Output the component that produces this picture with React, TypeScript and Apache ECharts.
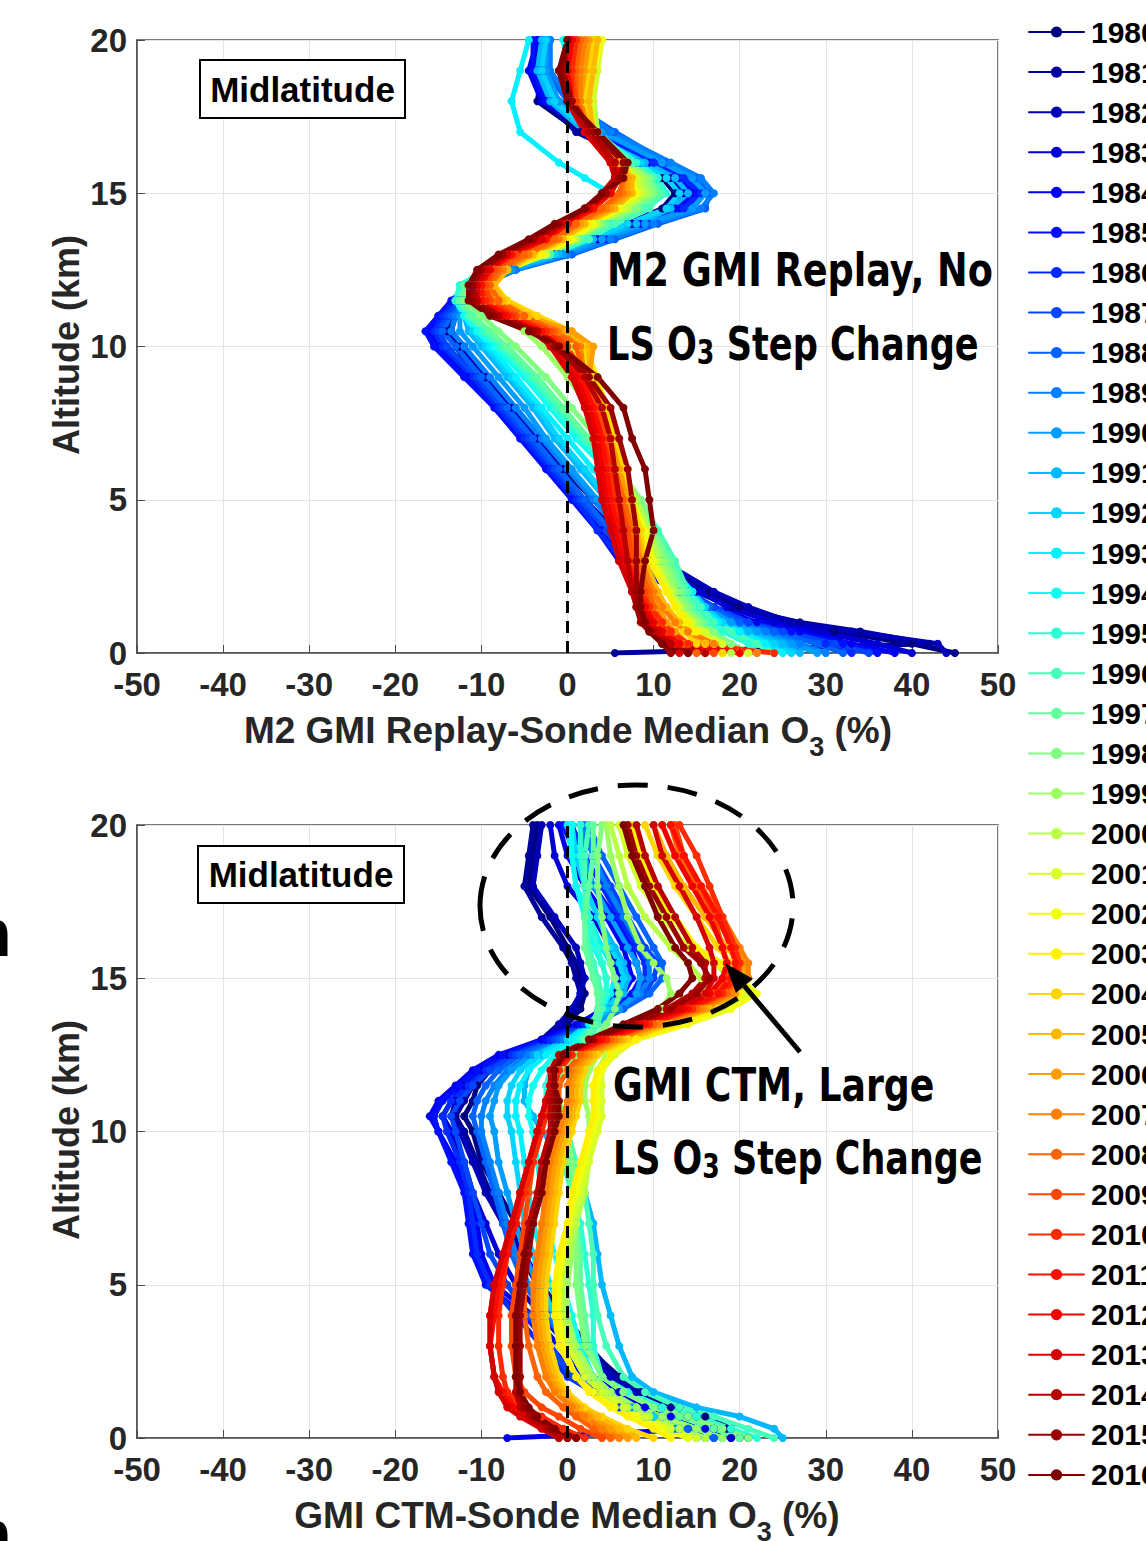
import React, { useEffect, useRef } from "react";
import * as echarts from "echarts";

const YEARS = [
  "1980", "1981", "1982", "1983", "1984", "1985", "1986", "1987", "1988", "1989",
  "1990", "1991", "1992", "1993", "1994", "1995", "1996", "1997", "1998", "1999",
  "2000", "2001", "2002", "2003", "2004", "2005", "2006", "2007", "2008", "2009",
  "2010", "2011", "2012", "2013", "2014", "2015", "2016",
];

// altitude levels (km) for each profile value
const ALT = [0, 0.3, 0.7, 1, 1.5, 2, 3, 4, 5, 6, 7, 8, 9, 10, 10.5, 11, 11.5, 12, 12.5, 13, 13.5, 14, 14.5, 15, 15.5, 16, 17, 18, 19, 20];

// M2 GMI Replay - Sonde median O3 (%), one row per year
const M2_PROFILES = [
  [45, 40, 31, 26, 20, 16.5, 10, 6.5, 3, -0.5, -4.5, -7.5, -10.5, -13, -14, -13.5, -12.5, -11, -7.5, -1.5, 3, 7, 11, 12.5, 11, 8, 1.5, -3.5, -3, -2.5],
  [5.5, 42, 34, 27, 19, 15, 9, 5.5, 2, -1, -4, -7, -9.5, -12.5, -14.5, -14, -12.5, -11, -7, -1, 3.5, 7.5, 11.5, 13, 11.5, 8.5, 1, -2.5, -3.5, -3.5],
  [44, 43, 33, 26, 21, 17, 11, 7, 3.5, 0, -3.5, -6.5, -9.5, -12, -13.5, -13, -12, -10.5, -6.5, -0.5, 4, 8, 12, 13.5, 12, 8.5, 2, -2, -3, -2.5],
  [40, 36, 29, 24, 18.5, 15.5, 9.5, 5, 1.5, -1.5, -5, -8, -11, -14, -15, -14, -12.5, -11, -7.5, -1.5, 3, 7.5, 12, 14, 12.5, 9, 2.5, -2, -4, -3.5],
  [38, 33, 27, 22, 17, 14, 7, 4, 1, -2, -5, -8, -11.5, -15, -16, -15, -13, -11.5, -8, -1.5, 3.5, 8, 12.5, 14.5, 12.5, 9.5, 3, -3, -4.5, -3.5],
  [36, 32, 26, 21, 16, 13, 6, 3.5, 0.5, -2.5, -5.5, -8.5, -12, -15.5, -16.5, -15, -13.5, -11.5, -7.5, -1, 4, 8.5, 13, 15, 13, 10, 3.5, -2.5, -4, -4],
  [33, 30, 24, 20, 16, 13, 6.5, 3.5, 1, -2, -5, -8, -11, -14.5, -15.5, -14.5, -13, -11, -7, -0.5, 4.5, 9, 13.5, 15.5, 13.5, 10, 4, -2, -3.5, -3],
  [35, 31, 25, 21, 17, 14, 7, 4.5, 1.5, -1.5, -4.5, -7.5, -10.5, -14, -15, -14, -12.5, -10.5, -6.5, 0, 5, 9.5, 14.5, 16, 14.5, 11, 5, -1, -3, -2.5],
  [32, 29, 24, 20, 16.5, 14, 8, 5, 2, -1, -4, -7, -10, -13, -14.5, -13.5, -12, -10, -6, 0.5, 5.5, 10.5, 16, 16.5, 15, 11.5, 5.5, 0, -2.5, -2],
  [30, 27, 23, 19, 16, 14, 9, 6, 3, 0, -3, -6, -9, -12, -13.5, -13, -12, -10, -6, 0, 5, 10, 15.5, 17, 15.5, 12, 5, 0.5, -2, -2],
  [29, 26, 22, 19, 16, 14.5, 10, 7, 3.5, 0.5, -2.5, -5, -8, -11, -12.5, -12.5, -12, -10.5, -6.5, -0.5, 4, 9, 14.5, 16, 14.5, 11, 4, -1, -2.5, -2.5],
  [27, 25, 21, 18, 15.5, 14, 10.5, 8, 4.5, 1.5, -1.5, -4, -7, -10, -11.5, -12, -12, -11, -7, -1, 3, 8, 12, 14, 12.5, 9, 2, -2, -3.5, -3],
  [26, 24, 20, 18, 16, 14.5, 11, 8.5, 5, 2, -1, -3.5, -6.5, -9.5, -11, -12, -12.5, -11.5, -8, -1.5, 2.5, 7, 11.5, 13, 11.5, 8.5, 2.5, -1.5, -3, -2.5],
  [25, 23, 20, 17.5, 15.5, 14.5, 11.5, 9, 6, 3, 0, -3, -6, -9, -10.5, -12, -13, -12, -8.5, -2.5, 1, 4.5, 6, 5, 2, -1, -5.5, -6.5, -5.5, -4.5],
  [24, 22, 19, 17, 15, 14, 12, 10, 7.5, 4.5, 1, -2, -5, -8.5, -10.5, -12, -13, -12.5, -9, -2.5, 1.5, 5, 9, 11, 10, 7.5, 2.5, 0.5, 0, -0.5],
  [22, 21, 18, 16.5, 15, 13.5, 12, 10.5, 8, 5, 1.5, -1.5, -4.5, -8, -10, -11.5, -13, -12.5, -9.5, -2, 2, 5, 9, 11.5, 10.5, 8, 3, 1, 0.5, 0],
  [24, 22, 19, 17, 15.5, 14, 12.5, 10.5, 8.5, 5.5, 2, -1, -4, -7.5, -9.5, -11.5, -12.5, -12, -9, -2, 2.5, 5.5, 9.5, 11, 10, 7.5, 3.5, 2, 1.5, 1],
  [20, 19, 17, 16, 14.5, 13.5, 12, 10, 8, 5.5, 2.5, -0.5, -3.5, -7, -9, -11, -12.5, -12, -9, -2.5, 1.5, 4.5, 8.5, 10.5, 9.5, 7, 3, 2.5, 2, 2],
  [21, 19, 17, 15.5, 14, 13, 11.5, 10, 8.5, 6, 3.5, 0.5, -2.5, -6, -8, -10, -12, -11.5, -8.5, -2.5, 1, 4, 8, 10, 9.5, 7, 3.5, 3, 3, 3],
  [20, 18, 16, 15, 13.5, 12.5, 11, 9.5, 8, 6.5, 4.5, 2.5, 0, -3, -5, -8, -10, -10.5, -7.5, -2.5, 1, 3.5, 7, 9.5, 9, 7, 3.5, 3, 3, 3.5],
  [19, 17, 15, 14, 13, 12, 10.5, 9.5, 8, 6.5, 5, 3.5, 1.5, -1, -3, -6.5, -9.5, -10, -7.5, -2.5, 1, 3.5, 7, 9, 8.5, 6.5, 3.5, 3, 3.5, 3.5],
  [21, 18, 16, 14.5, 13, 12, 10, 9, 7.5, 6, 5, 4, 2.5, 0.5, -2, -5.5, -8.5, -9.5, -7, -2.5, 0.5, 3, 6.5, 8.5, 8, 6.5, 3, 3, 3.5, 4],
  [18, 16, 14.5, 13.5, 12.5, 11.5, 10, 9, 7.5, 6, 5, 4, 3, 1.5, -1, -4.5, -7.5, -9, -7, -3, 0.5, 3, 6, 8, 7.5, 6, 3, 2.5, 3, 4],
  [20, 17, 15, 14, 12.5, 11.5, 9.5, 8.5, 7.5, 6.5, 5.5, 4.5, 3.5, 2, 0.5, -3.5, -7, -8.5, -7, -3, 0, 2.5, 5.5, 7.5, 7.5, 6, 3, 2, 2.5, 3.5],
  [18, 15, 13.5, 12.5, 11.5, 10.5, 9, 8.5, 7.5, 6.5, 5.5, 4.5, 3, 2, 0.5, -3.5, -7, -8.5, -7, -4, -0.5, 2, 5, 7, 7, 5.5, 2.5, 2, 2.5, 3],
  [20, 16, 14, 13, 11.5, 10.5, 9, 8, 7, 6, 5, 4, 2.5, 2.5, 0, -4.5, -7.5, -8.5, -7, -4, -0.5, 2, 5.5, 7.5, 7.5, 6, 3, 2.5, 3, 3.5],
  [16, 14, 12.5, 11.5, 10.5, 10, 8.5, 8, 7, 6, 5, 4, 2.5, 3, 0.5, -5, -8, -9, -7.5, -4.5, -1, 1.5, 5, 7, 7, 5.5, 2.5, 1.5, 2, 2.5],
  [22, 17, 14, 12.5, 11, 10, 8.5, 7.5, 6.5, 5.5, 4.5, 3.5, 2, 1.5, -1, -5.5, -8.5, -9, -7.5, -4.5, -1, 1, 4.5, 6.5, 6.5, 5.5, 2.5, 1.5, 1.5, 2],
  [15, 13.5, 12, 11, 10, 9.5, 8, 7.5, 6.5, 5.5, 4.5, 3.5, 2, 1, -1.5, -5, -8, -9, -8, -5, -1.5, 1, 4, 6, 6.5, 5.5, 2.5, 1, 1, 1.5],
  [17, 13, 11.5, 10.5, 9.5, 9, 7.5, 7, 6, 5.5, 4.5, 3.5, 2, 0, -2, -6, -9, -9.5, -8.5, -6, -2.5, 0, 3, 5, 6, 5, 2.5, 1, 0.5, 1],
  [24, 14, 12, 11, 9.5, 8.5, 7, 6.5, 5.5, 5, 4, 3, 1.5, -0.5, -2.5, -6.5, -9.5, -10, -9, -6.5, -2.5, 0, 3, 5, 6, 5, 2, 0.5, 0.5, 1],
  [14, 12.5, 11, 10, 9, 8, 7, 6, 5, 4.5, 4, 3, 1.5, -1, -3, -7, -10, -10, -9, -6.5, -2.5, 0, 3, 5, 5.5, 5, 2, 0, 0, 0.5],
  [20, 13, 11, 10, 9, 8, 6.5, 5.5, 4.5, 4, 3.5, 2.5, 1, -1.5, -3.5, -7.5, -10.5, -10.5, -9, -7, -3, -0.5, 2.5, 5, 6, 5.5, 2.5, 0.5, 0, 0.5],
  [13, 12, 10.5, 9.5, 8.5, 7.5, 6, 5, 4, 3.5, 3, 2, 0.5, -2, -4, -8, -10.5, -10.5, -9.5, -7, -3, -0.5, 2.5, 4.5, 5.5, 5, 2, 0, -0.5, 0],
  [16, 12, 10, 9, 8, 7.5, 7, 6.5, 6, 5.5, 5, 4, 2, -1, -3.5, -8, -10.5, -11, -10, -7.5, -4, -1, 2, 4, 5.5, 5.5, 2.5, 0, -1, 0],
  [12, 11, 9.5, 8.5, 8, 8, 8, 8, 7.5, 7, 6, 5, 2.5, -1.5, -4, -8.5, -11, -11, -10, -7.5, -4, -1, 2, 4.5, 6, 6.5, 3, 0.5, -0.5, 0],
  [14, 11, 9.5, 9, 8.5, 8.5, 9, 10, 9.5, 9, 7.5, 6.5, 3.5, -1, -4.5, -9, -11.5, -11.5, -10.5, -8, -4.5, -1.5, 2, 4, 6.5, 7, 3.5, 0, -1, 0],
];

// GMI CTM - Sonde median O3 (%), one row per year
const CTM_PROFILES = [
  [21, 19, 16, 13, 9, 6, 2, 0, -2, -4, -6, -8, -10, -11, -12, -11, -10.5, -9, -6, -2, 0, 1.5, 2, 1.5, 1, 0, -2, -4.5, -4, -3.5],
  [20, 18.5, 15, 12, 8.5, 5.5, 2.5, -0.5, -3, -5, -7, -9, -10.5, -12, -13, -12, -11, -9.5, -6.5, -2.5, -0.5, 1, 1.5, 1, 0.5, -0.5, -3, -5, -4.5, -4],
  [19, 17, 14, 11, 8, 5, 1.5, -1, -3.5, -5.5, -7.5, -9.5, -11, -12.5, -13.5, -13, -11.5, -10, -7, -3, -1, 0.5, 1.5, 2, 1.5, 1, -1.5, -4, -3.5, -3],
  [19, 17, 13, 10, 6, 3, 0, -3, -6, -8, -9.5, -11, -12, -13.5, -14.5, -13.5, -12, -10, -7, -2, 1.5, 4, 5.5, 6, 5.5, 5, 3, 0, -1.5, -2],
  [-7, 16, 12, 9, 5, 2, -1, -4, -8.5, -10, -10.5, -11.5, -13, -15, -16, -15, -13, -11, -8, -3, 1, 4.5, 6.5, 7.5, 7, 6.5, 4.5, 2, 0, -1],
  [18, 15, 11, 8, 4, 1, -2, -5, -9.5, -11, -11.5, -12, -13.5, -15, -15.5, -14.5, -12.5, -10.5, -7.5, -2.5, 1.5, 5, 7.5, 8.5, 8, 7.5, 5.5, 3, 1, -0.5],
  [17, 14, 10, 7, 3, 0, -3, -6, -9, -10.5, -11, -11.5, -12.5, -14, -14.5, -13.5, -11.5, -9.5, -6.5, -2, 2, 5.5, 8, 9, 9, 8, 6, 4, 2, 0.5],
  [16, 13, 9, 6, 3, 0.5, -2, -4.5, -7, -9, -10, -11, -12, -13, -13.5, -12.5, -11, -9, -6, -1.5, 2.5, 6, 9, 10, 10.5, 9, 7, 5, 3, 1.5],
  [17, 14, 11, 8, 5, 3, 0, -2.5, -5, -6.5, -7.5, -8.5, -9.5, -10.5, -11, -10.5, -9.5, -8, -5.5, -1, 3, 6.5, 9.5, 11, 11, 10, 8, 6, 4, 2.5],
  [15, 12.5, 9.5, 7, 4.5, 2.5, 0, -2, -4.5, -6, -7, -8, -9, -10, -10, -9.5, -8.5, -7, -4.5, -0.5, 3, 6, 8.5, 9.5, 9.5, 8.5, 6.5, 4.5, 3, 2],
  [16, 13, 10, 7.5, 5, 3, 0.5, -1.5, -3.5, -5, -6, -7, -8, -8.5, -9, -8.5, -8, -6.5, -4, 0, 3.5, 6, 8, 8.5, 8, 7, 5, 3, 2, 1.5],
  [25, 24, 20, 15, 10, 7.5, 6, 5, 4, 3.5, 3, 2, 0, -3, -4, -5, -5, -4.5, -3, 0, 2.5, 5, 6.5, 7, 6.5, 5.5, 3.5, 2, 1, 0.5],
  [16, 13, 10, 7, 4, 2, 0, -1.5, -3, -4, -5, -5.5, -6, -6.5, -7, -7, -6.5, -5.5, -3.5, 0, 2.5, 4.5, 6, 6.5, 6, 5, 3.5, 2, 1, 0.5],
  [14, 12, 9, 6.5, 4, 2, 0.5, -0.5, -2, -3, -4, -4.5, -5, -5.5, -6, -6, -5.5, -4.5, -2.5, 0.5, 2.5, 4, 5, 5.5, 5, 4, 2.5, 1, 0.5, 0],
  [18, 15, 11, 8, 5, 3, 1.5, 0.5, -0.5, -1.5, -2.5, -3, -3.5, -4, -4.5, -4.5, -4, -3, -1.5, 1, 3, 4, 4.5, 4.5, 4, 3, 2, 1, 0.5, 0.5],
  [22, 19, 15, 11, 7, 4, 3, 3, 2.5, 2, 1.5, 0.5, -0.5, -1.5, -2, -2.5, -2.5, -2, -0.5, 1.5, 3, 4, 4.5, 4.5, 4, 3.5, 2.5, 2, 1.5, 1.5],
  [24, 21, 17, 13, 9, 6.5, 4.5, 3.5, 3, 3, 2.5, 2, 1, 0, -1, -1.5, -1.5, -1, 0.5, 2.5, 3.5, 4, 4, 3.5, 3, 2.5, 2, 2, 2, 2.5],
  [20, 17, 13, 10, 6.5, 4, 2.5, 2, 1.5, 1.5, 1, 0.5, 0, -1, -1.5, -2, -2, -1, 0.5, 2, 3, 3.5, 3.5, 3, 2.5, 2, 2, 2.5, 3, 3],
  [21, 18, 14, 10, 6.5, 4, 2, 1.5, 1, 1, 1, 1, 0.5, 0, -0.5, -1, -1, -0.5, 1, 3, 4.5, 5.5, 6, 5.5, 5, 4.5, 4, 3.5, 3.5, 4],
  [18, 15, 11, 8, 5, 3, 1, 0, 0, 0.5, 1, 1.5, 2, 2.5, 2.5, 2, 2, 2.5, 3.5, 6, 9, 11, 12, 11.5, 10, 8.5, 7, 6, 5, 4.5],
  [16, 13, 9.5, 7, 4.5, 2.5, 0.5, -0.5, -0.5, 0, 1, 2, 2.5, 3, 3, 3, 3, 3.5, 4.5, 7, 10.5, 14, 16, 15.5, 14, 12, 9, 7, 6, 5],
  [15, 12, 9, 6.5, 4, 2, 0, -1, -1, -0.5, 0.5, 1.5, 2.5, 3.5, 4, 4, 4, 4, 5.5, 8, 13, 18, 21, 19, 17, 14, 11, 8.5, 7, 6],
  [14, 11, 8, 5.5, 3, 1, -0.5, -1, -1, -0.5, 0, 1, 2, 3, 3.5, 3.5, 3.5, 4, 5, 8, 14, 19, 22, 20, 18, 15, 12, 9.5, 8, 7],
  [12, 10, 7, 5, 2.5, 1, -1, -1.5, -1.5, -1, 0, 0.5, 1.5, 2.5, 3, 3, 3, 3.5, 5, 8, 13, 17.5, 20, 19.5, 17.5, 15, 12.5, 10, 8.5, 7.5],
  [10, 7, 4, 2, 0, -1, -2, -2.5, -2.5, -2, -1.5, -1, -0.5, 0.5, 1, 1.5, 1.5, 2, 3.5, 7, 12, 16, 18.5, 19.5, 19, 17.5, 15, 12.5, 10.5, 9],
  [8, 6, 3.5, 1.5, -0.5, -1.5, -2.5, -3, -3, -2.5, -2, -1.5, -1, 0, 0.5, 1, 1, 1.5, 3, 6.5, 11.5, 16.5, 19.5, 20.5, 20, 18.5, 16, 13.5, 11.5, 10],
  [7, 5, 2.5, 1, -1, -2, -3, -3.5, -3.5, -3, -2.5, -2, -1.5, -0.5, 0, 0.5, 0.5, 1, 2.5, 6, 11, 16, 19.5, 21, 20.5, 19.5, 17, 14.5, 12.5, 11],
  [6, 4, 2, 0.5, -1.5, -2.5, -3.5, -4, -4, -3.5, -3, -2.5, -2, -1, -0.5, 0, 0, 0.5, 2, 5.5, 10.5, 15.5, 19, 21, 21, 20, 18, 15.5, 13.5, 12],
  [5, 3, 1, -0.5, -2.5, -3.5, -4.5, -5, -5, -4.5, -4, -3.5, -3, -2, -1.5, -1, -1, 0, 1.5, 5, 10, 15, 18.5, 20, 20, 19, 17.5, 15, 13, 12],
  [4, 1.5, -1, -3, -5, -6, -6.5, -6.5, -6, -5.5, -5, -4.5, -4, -3, -2.5, -2, -1.5, -1, 0.5, 4, 9, 14, 17, 18.5, 18.5, 18, 17, 15.5, 13.5, 12.5],
  [2, -0.5, -3, -5, -7, -7.5, -8, -8, -7.5, -7, -6, -5, -4, -3, -2.5, -2, -1.5, -1, 0.5, 4.5, 9.5, 14.5, 18, 19.5, 20, 19.5, 18, 16.5, 15, 13],
  [1, -1.5, -4, -6, -7.5, -8.5, -9, -8.5, -8, -7, -6, -5.5, -4.5, -3.5, -3, -2.5, -2, -1.5, 0, 4, 9, 14, 17.5, 19, 19.5, 19, 17.5, 15.5, 13.5, 12],
  [0, -2.5, -5, -6.5, -8, -8.5, -9, -9, -8.5, -7.5, -6.5, -5.5, -4.5, -3.5, -3, -2.5, -2, -1.5, 0, 3.5, 8.5, 13.5, 16.5, 18, 18.5, 18, 16.5, 14.5, 12.5, 11],
  [-1, -3, -5.5, -7, -8, -8.5, -9, -9, -8.5, -7.5, -6.5, -5.5, -4.5, -3.5, -3, -2.5, -2, -1.5, -0.5, 3, 8, 13, 16, 17, 17, 16.5, 15, 13, 11, 10],
  [-1, -2.5, -4.5, -5.5, -6, -6, -6, -6, -5.5, -5, -4.5, -3.5, -3, -2, -2, -2, -2, -2, -1, 2.5, 7, 11.5, 14.5, 16, 16, 14.5, 12.5, 10.5, 9, 8],
  [0, -2, -4, -5, -5.5, -5.5, -5.5, -5.5, -5, -4.5, -4, -3, -2.5, -1.5, -1.5, -1.5, -1.5, -1.5, -0.5, 3, 7.5, 12, 15, 16.5, 15.5, 13.5, 11.5, 9.5, 8, 7],
  [1, -1.5, -3.5, -4.5, -5.5, -6, -6, -6, -5.5, -5, -4, -3, -2.5, -1.5, -1, -1, -1.5, -1.5, -0.5, 2.5, 6.5, 10.5, 13, 14.5, 14, 12.5, 10.5, 9, 7.5, 6.5],
];

const X_RANGE = [-50, 50];
const Y_RANGE = [0, 20];
const ZERO_LINE = [[0, 0], [0, 20]];

const FONT = '"Liberation Sans", Arial, Helvetica, sans-serif';
const NARROW = '"Liberation Sans Narrow", "Arial Narrow", "DejaVu Sans Condensed", sans-serif';

function jet(t: number): string {
  const c = (v: number) => Math.round(255 * Math.max(0, Math.min(1, v)));
  const r = c(Math.min(4 * t - 1.5, -4 * t + 4.5));
  const g = c(Math.min(4 * t - 0.5, -4 * t + 3.5));
  const b = c(Math.min(4 * t + 0.5, -4 * t + 2.5));
  return `rgb(${r},${g},${b})`;
}

const AXIS_COLOR = "#4d4d4d";

function xAxis(gi: number) {
  return {
    type: "value",
    gridIndex: gi,
    min: X_RANGE[0],
    max: X_RANGE[1],
    interval: 10,
    axisLine: { show: true, onZero: false, lineStyle: { color: AXIS_COLOR, width: 1.5 } },
    axisTick: { show: true, inside: true, length: 8, lineStyle: { color: AXIS_COLOR } },
    axisLabel: { fontSize: 33, fontWeight: "bold", fontFamily: FONT, color: "#262626", margin: 15 },
    splitLine: { show: true, lineStyle: { color: "#e4e4e4", width: 1 } },
  };
}

function yAxis(gi: number) {
  return {
    type: "value",
    gridIndex: gi,
    min: Y_RANGE[0],
    max: Y_RANGE[1],
    interval: 5,
    axisLine: { show: true, onZero: false, lineStyle: { color: AXIS_COLOR, width: 1.5 } },
    axisTick: { show: true, inside: true, length: 8, lineStyle: { color: AXIS_COLOR } },
    axisLabel: { fontSize: 33, fontWeight: "bold", fontFamily: FONT, color: "#262626", margin: 10 },
    splitLine: { show: true, lineStyle: { color: "#e4e4e4", width: 1 } },
  };
}

function buildOption() {
  const series: any[] = [];
  YEARS.forEach((yr, i) => {
    const color = jet(i / (YEARS.length - 1));
    [M2_PROFILES, CTM_PROFILES].forEach((P, g) => {
      series.push({
        type: "line",
        name: yr,
        xAxisIndex: g,
        yAxisIndex: g,
        data: ALT.map((a, k) => [P[i][k], a]),
        symbol: "circle",
        symbolSize: 8,
        showSymbol: true,
        lineStyle: { color, width: 5, cap: "round", join: "round" },
        itemStyle: { color },
        emphasis: { disabled: true },
        silent: true,
        z: 2,
      });
    });
  });
  [0, 1].forEach((g) => {
    series.push({
      type: "line",
      name: "zero",
      xAxisIndex: g,
      yAxisIndex: g,
      data: ZERO_LINE,
      symbol: "none",
      lineStyle: { color: "#000", width: 3, type: [12, 8] },
      silent: true,
      z: 5,
    });
  });

  const subRich = (main: number, sub: number, pad: number) => ({
    a: { fontSize: main, fontWeight: "bold", fontFamily: FONT, fill: "#262626", color: "#262626", verticalAlign: "top" },
    s: { fontSize: sub, fontWeight: "bold", fontFamily: FONT, fill: "#262626", color: "#262626", verticalAlign: "bottom", padding: [pad, 0, 0, 0] },
  });
  const annRich = {
    a: { fontSize: 46, fontWeight: "bold", fontFamily: NARROW, fill: "#000", color: "#000", verticalAlign: "top" },
    s: { fontSize: 33, fontWeight: "bold", fontFamily: NARROW, fill: "#000", color: "#000", verticalAlign: "bottom", padding: [15, 0, 0, 0] },
  };

  const tip = [725, 963];
  const tail = [800, 1052];
  const dx = tip[0] - tail[0];
  const dy = tip[1] - tail[1];
  const len = Math.sqrt(dx * dx + dy * dy);
  const ux = dx / len;
  const uy = dy / len;
  const bx = tip[0] - 30 * ux;
  const by = tip[1] - 30 * uy;
  const px = -uy;
  const py = ux;

  const graphic: any[] = [
    { type: "rect", z: 100, shape: { x: 200, y: 60, width: 205, height: 58 }, style: { fill: "#fff", stroke: "#000", lineWidth: 2 } },
    { type: "text", z: 101, x: 302.5, y: 89, style: { text: "Midlatitude", font: `bold 35px ${FONT}`, fill: "#000", textAlign: "center", textVerticalAlign: "middle" } },
    { type: "rect", z: 100, shape: { x: 198, y: 846, width: 206, height: 57 }, style: { fill: "#fff", stroke: "#000", lineWidth: 2 } },
    { type: "text", z: 101, x: 301, y: 874.5, style: { text: "Midlatitude", font: `bold 35px ${FONT}`, fill: "#000", textAlign: "center", textVerticalAlign: "middle" } },

    { type: "text", z: 101, x: 66, y: 345, rotation: Math.PI / 2, style: { text: "Altitude (km)", font: `bold 36px ${FONT}`, fill: "#262626", textAlign: "center", textVerticalAlign: "middle" } },
    { type: "text", z: 101, x: 66, y: 1130, rotation: Math.PI / 2, style: { text: "Altitude (km)", font: `bold 36px ${FONT}`, fill: "#262626", textAlign: "center", textVerticalAlign: "middle" } },

    { type: "text", z: 101, x: 568, y: 736, style: { text: "{a|M2 GMI Replay-Sonde Median O}{s|3}{a| (%)}", rich: subRich(37, 27, 22), textAlign: "center", textVerticalAlign: "middle" } },
    { type: "text", z: 101, x: 567, y: 1521, style: { text: "{a|GMI CTM-Sonde Median O}{s|3}{a| (%)}", rich: subRich(37, 27, 22), textAlign: "center", textVerticalAlign: "middle" } },

    { type: "text", z: 101, x: 607, y: 270, scaleX: 0.885, style: { text: "M2 GMI Replay, No", font: `bold 46px ${NARROW}`, fill: "#000", textAlign: "left", textVerticalAlign: "middle" } },
    { type: "text", z: 101, x: 607, y: 345, scaleX: 0.85, style: { text: "{a|LS O}{s|3}{a| Step Change}", rich: annRich, textAlign: "left", textVerticalAlign: "middle" } },
    { type: "text", z: 101, x: 613, y: 1085, scaleX: 0.875, style: { text: "GMI CTM, Large", font: `bold 46px ${NARROW}`, fill: "#000", textAlign: "left", textVerticalAlign: "middle" } },
    { type: "text", z: 101, x: 613, y: 1159, scaleX: 0.845, style: { text: "{a|LS O}{s|3}{a| Step Change}", rich: annRich, textAlign: "left", textVerticalAlign: "middle" } },

    { type: "ellipse", z: 100, shape: { cx: 636.5, cy: 906, rx: 156.5, ry: 121 }, style: { fill: "none", stroke: "#000", lineWidth: 5, lineDash: [30, 20] } },
    { type: "line", z: 100, shape: { x1: tail[0], y1: tail[1], x2: bx, y2: by }, style: { stroke: "#000", lineWidth: 5 } },
    { type: "polygon", z: 100, shape: { points: [[tip[0], tip[1]], [bx + 11 * px, by + 11 * py], [bx - 11 * px, by - 11 * py]] }, style: { fill: "#000" } },

    { type: "text", z: 101, x: 12, y: 934, style: { text: "n", font: `bold 64px ${NARROW}`, fill: "#000", textAlign: "right", textVerticalAlign: "middle" } },
    { type: "text", z: 101, x: 12, y: 1535, style: { text: "n", font: `bold 64px ${NARROW}`, fill: "#000", textAlign: "right", textVerticalAlign: "middle" } },
  ];

  return {
    animation: false,
    backgroundColor: "#fff",
    grid: [
      { left: 137, top: 40, width: 861, height: 613, show: true, borderColor: AXIS_COLOR, borderWidth: 1.5, backgroundColor: "transparent" },
      { left: 137, top: 825, width: 861, height: 613, show: true, borderColor: AXIS_COLOR, borderWidth: 1.5, backgroundColor: "transparent" },
    ],
    xAxis: [xAxis(0), xAxis(1)],
    yAxis: [yAxis(0), yAxis(1)],
    legend: {
      data: YEARS,
      orient: "vertical",
      left: 1023,
      top: 12,
      itemWidth: 55,
      itemHeight: 14,
      itemGap: 10.08,
      selectedMode: false,
      lineStyle: { width: 2 },
      textStyle: { fontSize: 30, fontWeight: "bold", fontFamily: FONT, color: "#000", lineHeight: 30, padding: [0, 0, 0, 2] },
    },
    series,
    graphic,
  };
}

export default function App() {
  const ref = useRef<HTMLDivElement>(null);
  useEffect(() => {
    if (!ref.current) return;
    const chart = echarts.init(ref.current, null, { renderer: "svg" });
    chart.setOption(buildOption() as any);
    return () => chart.dispose();
  }, []);
  return (
    <div
      ref={ref}
      style={{ position: "fixed", left: 0, top: 0, width: 1146, height: 1541, background: "#fff", overflow: "hidden" }}
    />
  );
}
